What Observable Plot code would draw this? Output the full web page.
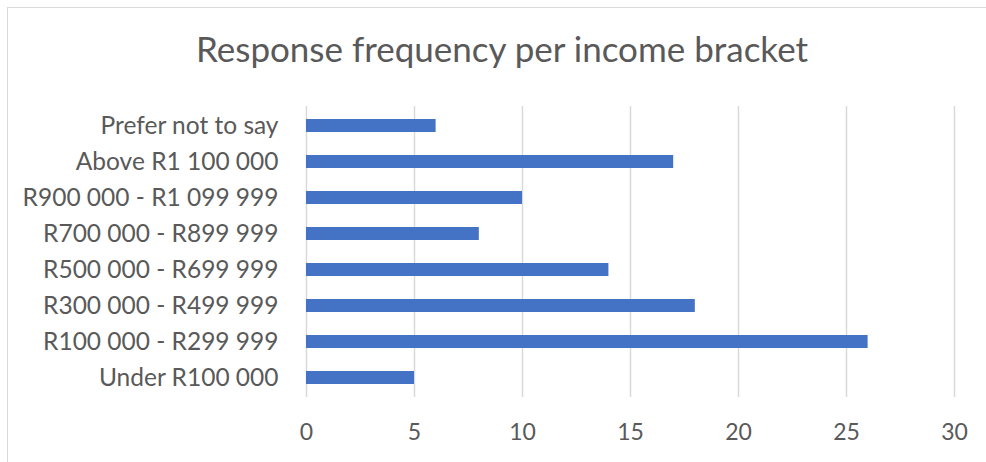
<!DOCTYPE html>
<html>
<head>
<meta charset="utf-8">
<script src="https://cdn.jsdelivr.net/npm/d3@7"></script>
<script src="https://cdn.jsdelivr.net/npm/@observablehq/plot@0.6"></script>
<style>
  html, body { margin: 0; padding: 0; background: #fff; }
  #wrap { position: relative; width: 986px; height: 462px; overflow: hidden; font-family: Lato, "Open Sans", sans-serif; }
  #frame { position: absolute; left: 7px; top: 7px; width: 1000px; height: 470px; border: 1.5px solid #d9d9d9; box-sizing: border-box; }
  #title { position: absolute; left: 0; width: 1004px; top: 25px; text-align: center; font-size: 35px; color: #595959; line-height: 46px; }
  #chart { position: absolute; left: 0; top: 0; }
</style>
</head>
<body>
<div id="wrap">
  <div id="frame"></div>
  <div id="title">Response frequency per income bracket</div>
  <div id="chart"></div>
</div>
<script>
const categories = [
  "Prefer not to say",
  "Above R1 100 000",
  "R900 000 - R1 099 999",
  "R700 000 - R899 999",
  "R500 000 - R699 999",
  "R300 000 - R499 999",
  "R100 000 - R299 999",
  "Under R100 000"
];
const counts = [6, 17, 10, 8, 14, 18, 26, 5];
const xTicks = [0, 5, 10, 15, 20, 25, 30];

const data = categories.map((c, i) => ({category: c, count: counts[i]}));

const chart = Plot.plot({
  width: 986,
  height: 462,
  marginLeft: 306,
  marginRight: 32,
  marginTop: 106,
  marginBottom: 65,
  style: {fontFamily: "Lato, 'Open Sans', sans-serif", color: "#595959", background: "transparent", overflow: "visible"},
  x: {domain: [0, 30], ticks: xTicks, label: null},
  y: {domain: categories, label: null, paddingInner: 0.65, paddingOuter: 0.325},
  marks: [
    Plot.gridX(xTicks, {stroke: "#d9d9d9", strokeOpacity: 1, strokeWidth: 1.5}),
    Plot.barX(data, {x: "count", y: "category", fill: "#4472c4"}),
    Plot.axisX({ticks: xTicks, tickSize: 0, tickPadding: 26, fontSize: 23, fill: "#595959", label: null}),
    Plot.axisY({tickSize: 0, tickPadding: 28, fontSize: 24.5, fill: "#595959", label: null})
  ]
});
document.getElementById("chart").appendChild(chart);
</script>
</body>
</html>
